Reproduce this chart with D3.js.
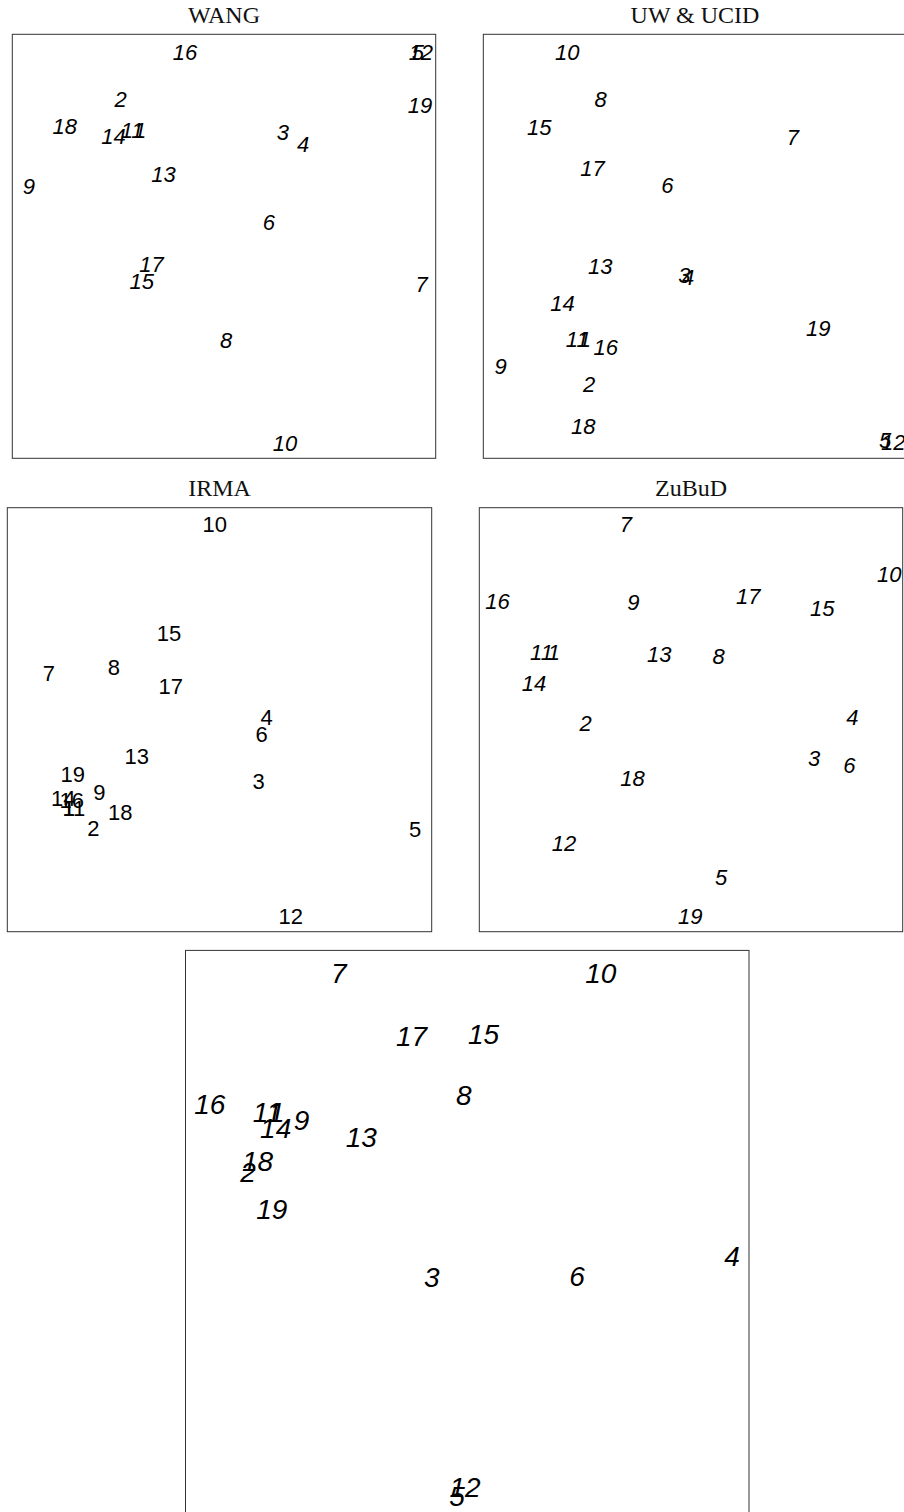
<!DOCTYPE html>
<html>
<head>
<meta charset="utf-8">
<script src="https://cdn.jsdelivr.net/npm/d3@7"></script>
<style>
  html, body { margin: 0; padding: 0; background: #fff; }
  svg { display: block; }
</style>
</head>
<body>
<svg id="chart" width="904" height="1512"></svg>
<script>
// Item labels shared by every embedding
const labels = ["1","2","3","4","5","6","7","8","9","10","11","12","13","14","15","16","17","18","19"];

// 2-D embedding coordinates per dataset (normalised to the plot region, y up)
const wangX = [0.302,0.256,0.639,0.687,0.958,0.606,0.967,0.505,0.039,0.644,0.283,0.965,0.357,0.239,0.306,0.408,0.329,0.124,0.963];
const wangY = [0.774,0.847,0.769,0.741,0.958,0.558,0.411,0.279,0.642,0.037,0.774,0.958,0.671,0.760,0.417,0.959,0.458,0.784,0.833];

const uwX = [0.240,0.250,0.475,0.484,0.949,0.435,0.731,0.277,0.041,0.198,0.222,0.968,0.276,0.187,0.132,0.289,0.258,0.236,0.791];
const uwY = [0.281,0.175,0.432,0.428,0.042,0.645,0.757,0.847,0.218,0.959,0.281,0.039,0.454,0.367,0.782,0.263,0.684,0.075,0.307];

const irmaX = [0.145,0.203,0.592,0.611,0.961,0.599,0.098,0.251,0.217,0.489,0.157,0.668,0.305,0.132,0.381,0.152,0.385,0.266,0.154];
const irmaY = [0.292,0.244,0.355,0.506,0.242,0.466,0.611,0.624,0.330,0.962,0.292,0.037,0.414,0.315,0.704,0.311,0.579,0.283,0.372];

const zubudX = [0.176,0.251,0.791,0.881,0.571,0.874,0.346,0.565,0.364,0.968,0.147,0.200,0.425,0.129,0.810,0.043,0.635,0.362,0.498];
const zubudY = [0.660,0.492,0.409,0.507,0.130,0.393,0.962,0.650,0.777,0.843,0.660,0.210,0.655,0.587,0.763,0.780,0.792,0.362,0.037];

const allX = [0.162,0.111,0.437,0.970,0.482,0.695,0.272,0.494,0.206,0.737,0.145,0.496,0.312,0.160,0.529,0.043,0.401,0.128,0.153];
const allY = [0.713,0.606,0.421,0.457,0.032,0.422,0.960,0.744,0.699,0.960,0.713,0.048,0.669,0.685,0.851,0.728,0.849,0.626,0.541];

// Panel layout: frame box in pixels, label styling
const panels = [
  { title: "WANG",      xs: wangX,  ys: wangY,  box: [12.3, 34.3, 423.4, 424],   italic: true,  size: 22 },
  { title: "UW & UCID", xs: uwX,    ys: uwY,    box: [483.3, 34.3, 423.4, 424],  italic: true,  size: 22 },
  { title: "IRMA",      xs: irmaX,  ys: irmaY,  box: [7.3, 507.7, 424.4, 424],   italic: false, size: 22 },
  { title: "ZuBuD",     xs: zubudX, ys: zubudY, box: [479.3, 507.7, 423.4, 424], italic: true,  size: 22 },
  { title: "",          xs: allX,   ys: allY,   box: [185.5, 950.4, 563.5, 563.5], italic: true, size: 28 }
];

const svg = d3.select("#chart");

panels.forEach(p => {
  const [left, top, w, h] = p.box;
  const x = d3.scaleLinear().domain([0, 1]).range([left, left + w]);
  const y = d3.scaleLinear().domain([0, 1]).range([top + h, top]);

  const g = svg.append("g");

  g.append("rect")
    .attr("x", x(0)).attr("y", y(1))
    .attr("width", x(1) - x(0)).attr("height", y(0) - y(1))
    .attr("fill", "none")
    .attr("stroke", "#333")
    .attr("stroke-width", 1);

  if (p.title) {
    g.append("text")
      .attr("x", (x(0) + x(1)) / 2)
      .attr("y", y(1) - 11.6)
      .attr("text-anchor", "middle")
      .attr("font-family", "'Liberation Serif', 'DejaVu Serif', serif")
      .attr("font-size", 24)
      .attr("fill", "#111")
      .text(p.title);
  }

  const pts = labels.map((lab, i) => ({ lab, vx: p.xs[i], vy: p.ys[i] }));

  g.selectAll("text.pt")
    .data(pts)
    .join("text")
    .attr("class", "pt")
    .attr("x", d => x(d.vx))
    .attr("y", d => y(d.vy))
    .attr("dy", "0.36em")
    .attr("text-anchor", "middle")
    .attr("font-family", "'Liberation Sans', Arial, sans-serif")
    .attr("font-style", p.italic ? "italic" : "normal")
    .attr("font-size", p.size)
    .attr("fill", "#000")
    .text(d => d.lab);
});
</script>
</body>
</html>
